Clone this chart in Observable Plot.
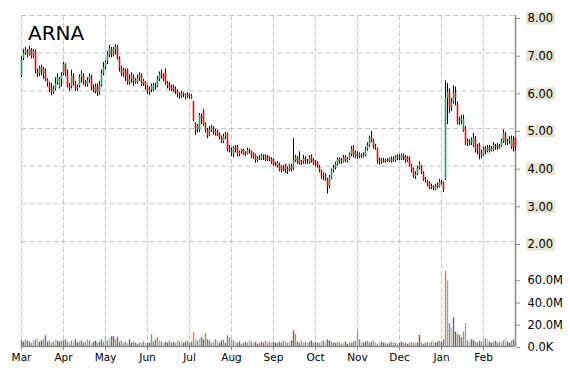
<!DOCTYPE html>
<html><head><meta charset="utf-8">
<script src="https://cdn.jsdelivr.net/npm/d3@7"></script>
<script src="https://cdn.jsdelivr.net/npm/@observablehq/plot@0.6"></script>
<style>
body{margin:0;background:#fff;}
#chart{position:relative;width:570px;height:370px;font-family:"DejaVu Sans",Verdana,sans-serif;}
#chart svg{position:absolute;left:0;top:0;}
#title{position:absolute;left:28px;top:23px;font-size:20px;line-height:1;color:#000;z-index:5;}
</style></head><body>
<div id="chart"><div id="title">ARNA</div></div>
<script>
const ticker = "ARNA";
const months = ["Mar","Apr","May","Jun","Jul","Aug","Sep","Oct","Nov","Dec","Jan","Feb"];
const monthStart = [0,21,42,63,84,105,126,147,168,189,210,231];
const priceTicks = [2,3,4,5,6,7,8];
const volumeTicks = [0,20,40,60]; // millions

const open = [
6.40,6.85,7.00,7.05,6.95,7.08,6.92,7.02,6.50,6.45,6.62,6.45,6.52,6.28,6.15,6.08,5.95,6.05,6.22,6.10,6.30,
6.45,6.68,6.45,6.12,6.10,6.40,6.18,6.05,6.12,6.35,6.40,6.22,6.15,6.28,6.35,6.08,5.98,6.12,5.95,6.15,6.45,
6.62,6.78,6.95,7.10,6.95,7.08,7.15,6.85,6.58,6.45,6.52,6.55,6.22,6.30,6.38,6.22,6.22,6.35,6.40,6.18,6.22,
6.10,5.95,6.02,6.02,6.12,6.12,6.30,6.45,6.40,6.50,6.20,6.15,6.05,6.10,6.05,5.98,5.90,5.85,5.92,5.85,5.90,
5.88,5.82,5.70,5.12,4.95,4.95,5.30,5.45,5.10,4.95,4.82,4.95,5.02,4.88,4.90,4.82,4.75,4.65,4.80,4.85,4.48,
4.40,4.32,4.48,4.50,4.30,4.38,4.42,4.30,4.32,4.40,4.38,4.25,4.30,4.15,4.20,4.18,4.28,4.28,4.18,4.22,4.18,
4.18,4.05,4.02,4.05,3.90,3.95,4.00,3.88,3.90,4.00,3.92,4.15,4.20,4.18,4.08,4.12,4.20,4.12,4.08,4.25,4.15,
4.05,4.10,3.98,3.88,3.72,3.75,3.65,3.45,3.70,3.88,3.95,4.05,4.18,4.12,4.10,4.25,4.12,4.18,4.30,4.48,4.28,
4.30,4.25,4.28,4.25,4.28,4.45,4.55,4.75,4.68,4.52,4.45,4.15,4.10,4.15,4.12,4.15,4.12,4.20,4.12,4.15,4.25,
4.22,4.18,4.28,4.25,4.15,4.22,4.02,3.92,3.72,3.78,3.95,4.00,3.80,3.65,3.60,3.55,3.42,3.45,3.38,3.48,3.45,
3.58,3.55,3.65,5.80,5.95,5.55,5.70,5.95,5.65,5.15,5.20,4.95,5.00,4.60,4.65,4.62,4.55,4.72,4.45,4.55,4.30,
4.28,4.45,4.40,4.50,4.40,4.42,4.52,4.55,4.48,4.52,4.65,4.85,4.62,4.65,4.50,4.72,4.72];
const high = [
6.90,7.10,7.15,7.10,7.18,7.12,7.10,7.08,6.58,6.65,6.68,6.62,6.58,6.32,6.22,6.20,6.12,6.35,6.45,6.35,6.48,
6.76,6.72,6.55,6.20,6.55,6.45,6.25,6.15,6.42,6.52,6.45,6.28,6.35,6.45,6.42,6.15,6.18,6.18,6.25,6.55,6.75,
6.80,7.05,7.20,7.15,7.15,7.22,7.20,6.90,6.65,6.60,6.58,6.58,6.42,6.48,6.42,6.32,6.42,6.48,6.45,6.30,6.25,
6.15,6.10,6.18,6.20,6.20,6.38,6.50,6.55,6.45,6.58,6.25,6.22,6.15,6.15,6.10,6.02,5.95,5.98,5.95,5.92,5.95,
5.92,5.90,5.72,5.15,5.10,5.40,5.38,5.50,5.15,5.00,5.05,5.08,5.05,4.98,4.95,4.88,4.80,4.85,4.90,4.88,4.55,
4.48,4.52,4.55,4.55,4.40,4.45,4.45,4.38,4.48,4.45,4.40,4.35,4.32,4.25,4.28,4.32,4.30,4.30,4.28,4.25,4.22,
4.20,4.10,4.12,4.08,4.00,4.02,4.05,3.98,4.05,4.05,4.73,4.28,4.25,4.38,4.15,4.28,4.25,4.18,4.28,4.30,4.20,
4.15,4.12,4.02,3.90,3.82,3.80,3.68,3.75,3.92,4.02,4.10,4.22,4.22,4.20,4.28,4.28,4.22,4.35,4.52,4.55,4.40,
4.38,4.35,4.32,4.35,4.50,4.62,4.80,4.92,4.72,4.58,4.48,4.22,4.20,4.20,4.18,4.20,4.22,4.25,4.25,4.28,4.30,
4.30,4.32,4.32,4.28,4.25,4.25,4.05,3.95,3.85,4.00,4.12,4.02,3.85,3.70,3.62,3.58,3.52,3.48,3.52,3.55,3.65,
3.62,3.58,6.26,6.20,6.05,5.80,6.13,6.10,5.70,5.30,5.35,5.35,5.05,4.72,4.70,4.75,4.87,4.78,4.58,4.60,4.42,
4.50,4.52,4.55,4.55,4.52,4.62,4.58,4.60,4.58,4.72,4.96,4.90,4.72,4.78,4.80,4.78,4.75];
const low = [
6.35,6.80,6.95,6.88,6.92,6.85,6.86,6.45,6.35,6.38,6.40,6.30,6.25,6.10,5.95,5.87,5.90,6.00,6.15,6.05,6.10,
6.40,6.38,6.08,5.98,6.05,6.12,5.98,6.00,6.08,6.20,6.15,6.10,6.10,6.20,6.00,5.95,5.92,5.85,5.88,6.10,6.40,
6.55,6.70,6.88,6.88,6.90,6.95,6.82,6.50,6.38,6.35,6.25,6.15,6.15,6.20,6.12,6.18,6.18,6.25,6.12,6.12,6.02,
5.90,5.88,5.95,5.98,6.02,6.08,6.25,6.32,6.25,6.15,6.05,6.00,5.98,5.95,5.90,5.82,5.78,5.80,5.82,5.76,5.80,
5.78,5.78,5.18,4.82,4.88,4.90,5.10,5.05,4.88,4.73,4.78,4.90,4.82,4.80,4.78,4.70,4.60,4.60,4.70,4.38,4.35,
4.25,4.22,4.35,4.25,4.25,4.32,4.28,4.26,4.30,4.32,4.20,4.18,4.08,4.10,4.15,4.15,4.15,4.12,4.12,4.12,4.05,
4.00,3.98,3.95,3.85,3.82,3.85,3.80,3.78,3.85,3.85,3.88,4.10,4.05,4.03,4.02,4.05,4.05,4.05,4.05,4.08,4.02,
3.98,3.95,3.82,3.65,3.62,3.60,3.26,3.40,3.65,3.82,3.90,4.00,4.05,4.05,4.08,4.10,4.08,4.15,4.25,4.22,4.20,
4.18,4.20,4.20,4.22,4.25,4.40,4.50,4.62,4.45,4.42,4.05,4.02,4.05,4.08,4.08,4.10,4.10,4.08,4.10,4.10,4.15,
4.15,4.15,4.15,4.08,4.10,3.98,3.82,3.68,3.65,3.75,3.90,3.78,3.60,3.55,3.45,3.38,3.38,3.35,3.35,3.40,3.42,
3.50,3.30,3.62,5.10,5.40,5.45,5.65,5.60,5.10,5.08,5.10,4.90,4.55,4.52,4.55,4.55,4.50,4.35,4.30,4.17,4.20,
4.25,4.30,4.35,4.35,4.38,4.38,4.42,4.42,4.45,4.50,4.60,4.55,4.55,4.58,4.45,4.38,4.40];
const close = [
6.82,7.00,7.08,6.95,7.10,6.90,7.05,6.55,6.42,6.60,6.48,6.55,6.30,6.18,6.05,5.95,6.05,6.20,6.35,6.30,6.40,
6.70,6.45,6.12,6.05,6.40,6.20,6.05,6.10,6.35,6.45,6.22,6.15,6.28,6.38,6.08,6.00,6.10,5.95,6.15,6.45,6.62,
6.75,6.95,7.12,6.95,7.10,7.15,6.85,6.60,6.45,6.55,6.38,6.20,6.30,6.40,6.22,6.28,6.35,6.42,6.18,6.25,6.10,
5.95,6.02,6.12,6.15,6.10,6.30,6.45,6.40,6.30,6.20,6.12,6.05,6.10,6.02,5.98,5.90,5.85,5.92,5.88,5.90,5.85,
5.82,5.85,5.22,4.95,5.05,5.35,5.25,5.10,4.95,4.80,4.95,5.02,4.88,4.92,4.82,4.75,4.68,4.78,4.85,4.45,4.42,
4.35,4.48,4.42,4.30,4.35,4.42,4.30,4.32,4.42,4.38,4.25,4.30,4.15,4.20,4.22,4.28,4.25,4.15,4.22,4.18,4.10,
4.05,4.02,4.08,3.88,3.95,3.90,3.88,3.92,4.02,3.90,4.15,4.22,4.12,4.05,4.10,4.20,4.12,4.10,4.22,4.12,4.05,
4.02,3.98,3.88,3.72,3.75,3.68,3.45,3.70,3.88,3.95,4.05,4.18,4.12,4.15,4.22,4.12,4.18,4.30,4.45,4.28,4.35,
4.25,4.30,4.25,4.28,4.45,4.55,4.75,4.70,4.50,4.48,4.15,4.10,4.15,4.12,4.15,4.12,4.20,4.10,4.18,4.25,4.22,
4.25,4.28,4.22,4.12,4.20,4.02,3.90,3.72,3.78,3.95,4.05,3.82,3.65,3.62,3.52,3.42,3.45,3.40,3.48,3.45,3.58,
3.55,3.35,5.80,5.95,5.55,5.70,5.95,5.80,5.15,5.20,5.25,5.25,4.60,4.65,4.62,4.68,4.75,4.45,4.50,4.30,4.35,
4.45,4.40,4.48,4.40,4.45,4.55,4.50,4.48,4.52,4.65,4.88,4.62,4.65,4.70,4.72,4.45,4.52];
const volume = [ // millions
5,4,6,5,4,3,5,6,7,4,5,6,9.7,4,5,3,4,6,5,4,5,
5,6,4,3,5,4,6,3,4,5,3,4,6,5,3,4,5,3,4,6,4,
8.8,5,7,8.8,8.8,6,8.5,4,5,3,4,3,6,3,4,3,2,3,3,4,3,
3,3,10.6,4,6,8,5,4,3,4,3,5,3,4,3,5,4,5,3,4,5,
3,4,12.6,6,5,7,8,6,11.5,6,5,3,4,6,5,3,5,6,3,9.7,8,
6,5,4,3,4,2,3,4,3,5,4,3,4,2,3,4,3,5,3,4,3,
4,3,3,4,3,5,4,3,4,5,14,11,4,3,5,3,4,3,4,5,3,
4,3,3,4,5,4,6,5,4,3,3,4,3,2,3,4,2,3,3,4,5,
15,6,4,3,4,5,3,4,5,3,2,3,4,3,3,2,3,4,3,3,2,
3,4,3,3,2,3,4,3,4,3,10,3,2,3,4,3,4,5,3,4,5,
4,6,67.6,59,20.6,16.5,26,13,11,10,8,13,20.6,5,4,6,5,4,3,5,4,
5,7,6,4,3,4,5,3,4,3,5,7,4,3,5,6,4];
const palette = ["#4572A7","#AA4643","#89A54E","#80699B","#3D96AE","#DB843D","#92A8CD","#A47D7C","#B5CA92"];

const N = close.length;
const data = close.map((c, i) => ({i, o: open[i], h: high[i], l: low[i], c, v: volume[i]}));
const xDomain = [0, N - 1];
const gridStyle = {stroke: "#c6c6c6", strokeDasharray: "5,3", strokeWidth: 1};
const FONT = "DejaVu Sans, Verdana, sans-serif";
const base = () => ({
  width: 570, height: 370, marginLeft: 21, marginRight: 55,
  style: {background: "transparent", overflow: "visible"}
});
const chart = document.getElementById("chart");

// grid + x axis
const gridPlot = Plot.plot({
  ...base(), marginTop: 15, marginBottom: 24,
  x: {domain: xDomain, axis: null},
  marks: [
    Plot.ruleX(monthStart, gridStyle),
    Plot.ruleX([N - 1], {stroke: "#8c8c8c", strokeWidth: 1.5}),
    Plot.axisX(monthStart, {anchor: "bottom", tickSize: 4, tickPadding: 3, stroke: "#8c8c8c", fill: "#000",
      fontFamily: FONT, fontSize: 10.5, tickFormat: d => months[monthStart.indexOf(d)], label: null})
  ]
});
chart.appendChild(gridPlot);

// volume
const volPlot = Plot.plot({
  ...base(), marginTop: 257, marginBottom: 24,
  x: {domain: xDomain, axis: null},
  y: {domain: [0, 80], axis: null},
  color: {type: "identity"},
  marks: [
    Plot.ruleX(data, {x: "i", y1: 0, y2: "v", stroke: d => palette[d.i % palette.length], strokeWidth: 1.4}),
    Plot.ruleY([0], {stroke: "#8c8c8c", strokeWidth: 1.5}),
    Plot.axisY(volumeTicks, {anchor: "right", tickSize: 4, tickPadding: 8, stroke: "#8c8c8c", fill: "#000",
      fontFamily: FONT, fontSize: 11.5, tickFormat: d => d === 0 ? "0.0K" : d.toFixed(1) + "M", label: null, dy: 1})
  ]
});
chart.appendChild(volPlot);

// price candles
const pricePlot = Plot.plot({
  ...base(), marginTop: 15, marginBottom: 129,
  x: {domain: xDomain, axis: null},
  y: {domain: [2, 8], axis: null},
  marks: [
    Plot.ruleY(priceTicks, gridStyle),
    Plot.ruleX(data, {x: "i", y1: "l", y2: "h", stroke: "#000", strokeWidth: 1}),
    Plot.ruleX(data, {filter: d => d.c >= d.o, x: "i", y1: "o", y2: "c", stroke: "#10a35a", strokeWidth: 1.6}),
    Plot.ruleX(data, {filter: d => d.c < d.o, x: "i", y1: "o", y2: "c", stroke: "#ff0000", strokeWidth: 1.6})
  ]
});
chart.appendChild(pricePlot);

// price axis overlay: beige label boxes (thick rule segments) + labels
const priceAxis = Plot.plot({
  ...base(), marginTop: 15, marginBottom: 129,
  x: {domain: xDomain, axis: null},
  y: {domain: [2, 8], axis: null},
  marks: [
    Plot.ruleY(priceTicks, {x1: () => N - 1, x2: () => N - 1, insetLeft: 11, insetRight: -40,
      dy: 2.75, stroke: "#e9e5d3", strokeWidth: 12.5, strokeLinecap: "butt"}),
    Plot.axisY(priceTicks, {anchor: "right", tickSize: 4, tickPadding: 8, stroke: "#8c8c8c", fill: "#000",
      fontFamily: FONT, fontSize: 11.5, tickFormat: d => d.toFixed(2), label: null, dy: 3})
  ]
});
chart.appendChild(priceAxis);
</script>
</body></html>
